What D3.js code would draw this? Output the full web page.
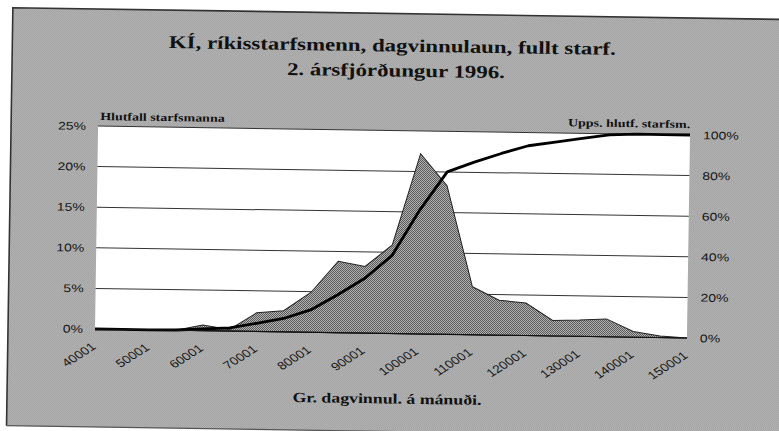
<!DOCTYPE html>
<html>
<head>
<meta charset="utf-8">
<script src="https://cdn.jsdelivr.net/npm/d3@7"></script>
<style>
body{margin:0;background:#fff}
svg{display:block}
.lbl{font-family:"Liberation Sans",Arial,sans-serif;font-size:11px;fill:#151515}
.srf{font-family:"Liberation Serif","Times New Roman",serif;font-weight:bold;fill:#111}
</style>
</head>
<body>
<svg id="chart"></svg>
<script>
// income bins (lower bound of each 5000 kr. band) and share of staff in each
var incomeBins=[40001,45001,50001,55001,60001,65001,70001,75001,80001,85001,90001,95001,
	100001,105001,110001,115001,120001,125001,130001,135001,140001,145001,150001];
var staffShare=[0,0,0,0,0.7,0.2,2.3,2.6,4.9,8.8,8.2,10.9,22.2,18.3,5.9,4.3,4.0,1.9,2.0,2.2,0.7,0.2,0];
var cumShare=[0,0,0,0.1,0.8,1.6,4,6.6,11,18.7,27,38.5,61,80,85,89.5,93.5,95.5,97.5,99.5,100,100,100];
var tickLabels=[40001,50001,60001,70001,80001,90001,100001,110001,120001,130001,140001,150001];
var leftTicks=[0,5,10,15,20,25];
var rightTicks=[0,20,40,60,80,100];

var width=779,height=431;
var tilt=0.87, stretch=1.27;   // the scan is a bit crooked and wide
var plotX=95,plotY=126,plotW=592,plotH=203;

var svg=d3.select("#chart").attr("width",width).attr("height",height);

var defs=svg.append("defs");
function checker(id,c1,c2) {
	var p=defs.append("pattern").attr("id",id)
		.attr("width",2).attr("height",2)
		.attr("patternUnits","userSpaceOnUse")
		.attr("patternTransform","rotate("+(-tilt)+")");
	p.append("rect").attr("width",2).attr("height",2).attr("fill",c1);
	p.append("rect").attr("width",1).attr("height",1).attr("fill",c2);
	p.append("rect").attr("x",1).attr("y",1).attr("width",1).attr("height",1).attr("fill",c2);
}
checker("bgPat","#d0d0d0","#868686");
checker("areaPat","#bcbcbc","#505050");

var page=svg.append("g")
	.attr("transform","rotate("+tilt+","+plotX+","+(plotY+plotH)+")");

// frame
page.append("rect").attr("x",8).attr("y",9).attr("width",840).attr("height",418)
	.attr("fill","url(#bgPat)");
page.append("path").attr("d","M8,427V9H848")
	.attr("fill","none").attr("stroke","#333").attr("stroke-width",1.6);
page.append("line").attr("x1",8).attr("x2",848).attr("y1",427).attr("y2",427)
	.attr("stroke","#555").attr("stroke-width",1.2);

function wideText(sel,x,y,rot) {
	return sel.attr("transform","translate("+x+","+y+") scale("+stretch+",1)"+(rot?" rotate("+rot+")":""));
}

// title
wideText(page.append("text").attr("class","srf").attr("text-anchor","middle").style("font-size","18px")
	.text("KÍ, ríkisstarfsmenn, dagvinnulaun, fullt starf."),388,47);
wideText(page.append("text").attr("class","srf").attr("text-anchor","middle").style("font-size","18px")
	.text("2. ársfjórðungur 1996."),392,72);

var x=d3.scaleLinear().domain([incomeBins[0],incomeBins[incomeBins.length-1]]).range([0,plotW]);
var yL=d3.scaleLinear().domain([0,25]).range([plotH,0]);
var yR=d3.scaleLinear().domain([0,100]).range([plotH,0]);

var plot=page.append("g").attr("transform","translate("+plotX+","+plotY+")");
plot.append("rect").attr("width",plotW).attr("height",plotH).attr("fill","#fff");

plot.selectAll(".grid").data(leftTicks).enter().append("line")
	.attr("class","grid")
	.attr("x1",0).attr("x2",plotW)
	.attr("y1",function(d) {return yL(d);}).attr("y2",function(d) {return yL(d);})
	.attr("stroke","#333").attr("stroke-width",1);

var area=d3.area()
	.x(function(d,i) {return x(incomeBins[i]);})
	.y0(plotH)
	.y1(function(d) {return yL(d);});
plot.append("path").datum(staffShare).attr("d",area)
	.attr("fill","url(#areaPat)").attr("stroke","#222").attr("stroke-width",1);

var line=d3.line()
	.x(function(d,i) {return x(incomeBins[i]);})
	.y(function(d) {return yR(d);});
plot.append("path").datum(cumShare).attr("d",line)
	.attr("fill","none").attr("stroke","#000").attr("stroke-width",2.8)
	.attr("stroke-linejoin","round");

plot.append("line").attr("x1",0).attr("x2",plotW).attr("y1",plotH).attr("y2",plotH)
	.attr("stroke","#111").attr("stroke-width",1.2);

// left axis labels
plot.selectAll(".yl").data(leftTicks).enter().append("text")
	.attr("class","lbl yl").attr("text-anchor","end")
	.each(function(d) {wideText(d3.select(this),-12,yL(d)+4);})
	.text(function(d) {return d+"%";});

// right axis labels
plot.selectAll(".yr").data(rightTicks).enter().append("text")
	.attr("class","lbl yr").attr("text-anchor","start")
	.each(function(d) {wideText(d3.select(this),plotW+13,yR(d)+4);})
	.text(function(d) {return d+"%";});

// x labels
plot.selectAll(".xl").data(tickLabels).enter().append("text")
	.attr("class","lbl xl").attr("text-anchor","end")
	.each(function(d) {wideText(d3.select(this),x(d)+2,plotH+19,-40);})
	.text(function(d) {return d;});

// axis titles
wideText(plot.append("text").attr("class","srf").style("font-size","11px")
	.text("Hlutfall starfsmanna"),2,-6);
wideText(plot.append("text").attr("class","srf").attr("text-anchor","end").style("font-size","11px")
	.text("Upps. hlutf. starfsm."),plotW,-7);
wideText(plot.append("text").attr("class","srf").attr("text-anchor","middle").style("font-size","14px")
	.text("Gr. dagvinnul. á mánuði."),293,plotH+70);
</script>
</body>
</html>
